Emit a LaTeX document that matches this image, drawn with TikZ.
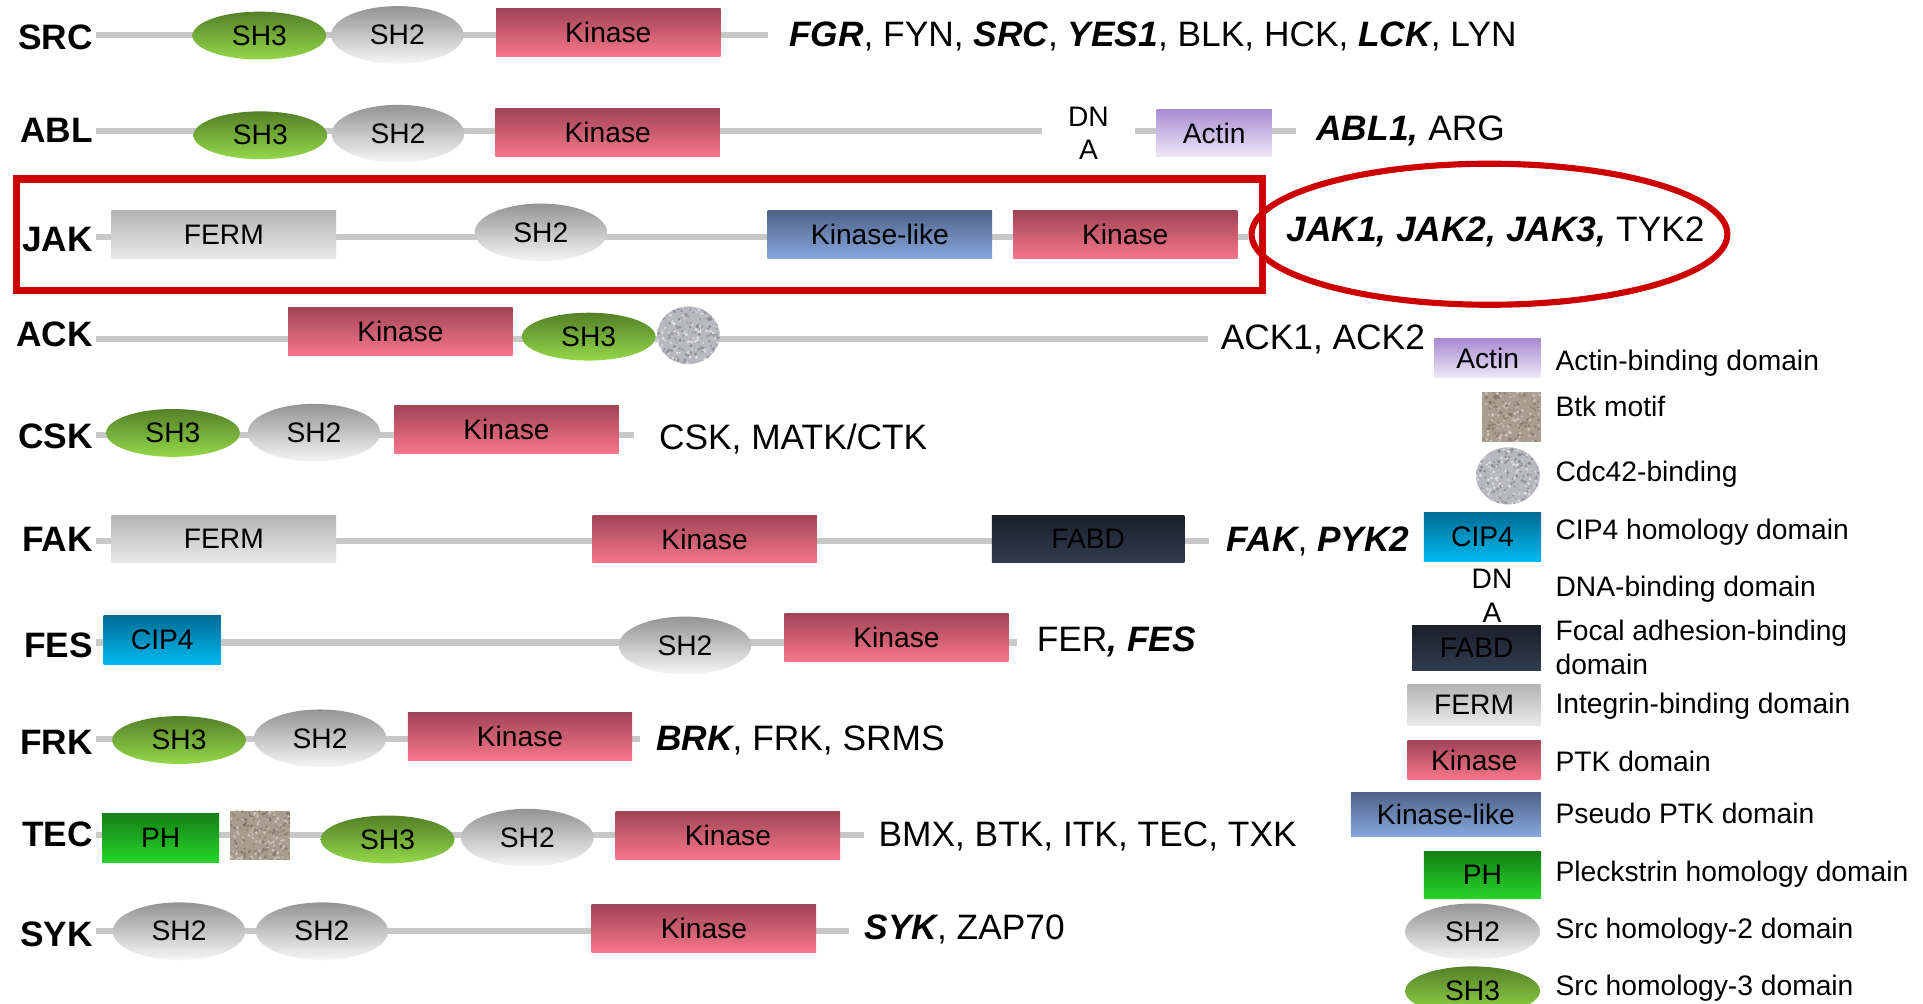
\documentclass[tikz,border=0pt]{standalone}
\usepackage{fontspec}
\setmainfont{Liberation Sans}
\usetikzlibrary{shapes.geometric}

\definecolor{lineGray}{RGB}{200,200,200}
\definecolor{kinTop}{RGB}{160,68,86}
\definecolor{kinBot}{RGB}{248,118,138}
\definecolor{klTop}{RGB}{78,98,136}
\definecolor{klBot}{RGB}{136,168,224}
\definecolor{sh3Top}{RGB}{84,128,40}
\definecolor{sh3Bot}{RGB}{148,216,74}
\definecolor{sh2Top}{RGB}{148,148,148}
\definecolor{sh2Bot}{RGB}{246,246,246}
\definecolor{fermTop}{RGB}{180,180,180}
\definecolor{fermBot}{RGB}{234,234,234}
\definecolor{actTop}{RGB}{168,140,210}
\definecolor{actBot}{RGB}{238,232,247}
\definecolor{cipTop}{RGB}{0,108,148}
\definecolor{cipBot}{RGB}{0,186,242}
\definecolor{fabdTop}{RGB}{26,32,42}
\definecolor{fabdBot}{RGB}{48,60,80}
\definecolor{phTop}{RGB}{20,128,22}
\definecolor{phBot}{RGB}{38,212,42}
\definecolor{btkBase}{RGB}{170,156,142}
\definecolor{btkDark}{RGB}{118,104,92}
\definecolor{btkLight}{RGB}{220,210,198}
\definecolor{cdcBase}{RGB}{184,185,190}
\definecolor{cdcDark}{RGB}{118,118,124}
\definecolor{cdcLight}{RGB}{236,236,240}
\definecolor{jakRed}{RGB}{204,0,0}

% bold italic gene names
\newcommand\genebi[1]{{\bfseries\itshape #1}}

% mottled texture for the Btk motif and Cdc42-binding shapes
\newcommand\speckle[3]{%
  \foreach \k in {1,...,140}{%
    \pgfmathsetmacro\spX{rand*14}\pgfmathsetmacro\spY{rand*13}\pgfmathsetmacro\spR{0.35+0.45*rnd}%
    \fill[#2, opacity=0.55] ([xshift=\spX pt,yshift=\spY pt]#1.center) circle[radius=\spR pt];
    \pgfmathsetmacro\spX{rand*14}\pgfmathsetmacro\spY{rand*13}\pgfmathsetmacro\spR{0.3+0.4*rnd}%
    \fill[#3, opacity=0.7] ([xshift=\spX pt,yshift=\spY pt]#1.center) circle[radius=\spR pt];}}

\begin{document}
\begin{tikzpicture}[x=0.5pt,y=-0.5pt,
  rowlbl/.style={anchor=east, inner sep=0pt, font=\fontsize{14.4}{17}\selectfont\bfseries},
  genes/.style={anchor=base west, inner sep=0pt, font=\fontsize{14.4}{17}\selectfont},
  legtxt/.style={anchor=base west, inner sep=0pt, font=\fontsize{11.5}{13.75}\selectfont},
  backbone/.style={draw=lineGray, line width=2.6pt},
  dom/.style={inner sep=0pt, font=\fontsize{11.5}{13.5}\selectfont},
  wh/.style 2 args={minimum width={#1*0.5pt}, minimum height={#2*0.5pt}},
  kinasebox/.style={dom, rectangle, top color=kinTop, bottom color=kinBot, wh={183}{39}},
  kinlikebox/.style={dom, rectangle, top color=klTop, bottom color=klBot},
  fermbox/.style={dom, rectangle, top color=fermTop, bottom color=fermBot},
  actinbox/.style={dom, rectangle, top color=actTop, bottom color=actBot},
  cipbox/.style={dom, rectangle, top color=cipTop, bottom color=cipBot},
  fabdbox/.style={dom, rectangle, top color=fabdTop, bottom color=fabdBot},
  phbox/.style={dom, rectangle, top color=phTop, bottom color=phBot},
  shthree/.style={dom, ellipse, top color=sh3Top, bottom color=sh3Bot, wh={109}{39}},
  shtwo/.style={dom, ellipse, top color=sh2Top, bottom color=sh2Bot, wh={108}{47}},
  btkbox/.style={rectangle, inner sep=0pt, fill=btkBase,
    path picture={\speckle{path picture bounding box}{btkDark}{btkLight}}},
  cdcbox/.style={ellipse, inner sep=0pt, fill=cdcBase,
    path picture={\speckle{path picture bounding box}{cdcDark}{cdcLight}}},
  dnatxt/.style={anchor=north, inner sep=0pt, align=center,
    font=\fontsize{11.5}{13.5}\selectfont},
]
\pgfmathsetseed{11}
\path[use as bounding box, clip] (0,0) rectangle (1568,818);
\fill[white] (0,0) rectangle (1568,818);

% ---------------- SRC ----------------
\node[rowlbl] (srcL) at (76,30.6) {SRC};
\coordinate (srcA) at (78,28.5); \coordinate (srcB) at (626,28.5);
\draw[backbone] (srcA) -- (srcB);
\node[shthree] (srcSH3) at (211.5,29) {SH3};
\node[shtwo] (srcSH2) at (324,28.5) {SH2};
\node[kinasebox] (srcKin) at (496,26.5) {Kinase};
\node[genes] (srcG) at (643,37.8) {\genebi{FGR}, FYN, \genebi{SRC}, \genebi{YES1}, BLK, HCK, \genebi{LCK}, LYN};

% ---------------- ABL ----------------
\node[rowlbl] (ablL) at (76,106) {ABL};
\coordinate (ablA) at (78,106.8); \coordinate (ablB) at (1057,106.8);
\node[dnatxt, minimum width=37.5pt] (ablDNA) at (887.5,87) {DN\\A};
\draw[backbone] (ablA) -- (ablA -| ablDNA.west);
\draw[backbone] (ablA -| ablDNA.east) -- (ablB);
\node[shthree] (ablSH3) at (212.3,110.3) {SH3};
\node[shtwo] (ablSH2) at (324.5,109) {SH2};
\node[kinasebox] (ablKin) at (495.5,108) {Kinase};
\node[actinbox, wh={94}{39}] (ablAct) at (990,108.5) {Actin};
\node[genes] (ablG) at (1073,114.3) {\genebi{ABL1,} ARG};

% ---------------- JAK ----------------
\node[rowlbl] (jakL) at (76,195) {JAK};
\coordinate (jakA) at (78,193); \coordinate (jakB) at (1018,193);
\draw[backbone] (jakA) -- (jakB);
\node[fermbox, wh={183}{39}] (jakFERM) at (182.5,191.5) {FERM};
\node[shtwo] (jakSH2) at (441,189.5) {SH2};
\node[kinlikebox, wh={183}{39}] (jakKL) at (717.5,191.5) {Kinase-like};
\node[kinasebox] (jakKin) at (917.5,191.5) {Kinase};
\node[genes] (jakG) at (1048.5,197.3) {\genebi{JAK1, JAK2, JAK3,} TYK2};
\node[draw=jakRed, line width=3pt, rectangle, inner sep=0pt, wh={1016}{91}] (jakBox) at (521.5,191.5) {};
\node[draw=jakRed, line width=2.5pt, ellipse, inner sep=0pt, wh={388}{115}] (jakOval) at (1214.5,191) {};

% ---------------- ACK ----------------
\node[rowlbl] (ackL) at (76,272.5) {ACK};
\coordinate (ackA) at (78,276.5); \coordinate (ackB) at (985,276.5);
\draw[backbone] (ackA) -- (ackB);
\node[kinasebox] (ackKin) at (326.5,270) {Kinase};
\node[shthree] (ackSH3) at (480,274.5) {SH3};
\node[cdcbox, wh={51}{47}] (ackCdc) at (561.3,273.4) {};
\node[genes] (ackG) at (995,285.2) {ACK1, ACK2};

% ---------------- CSK ----------------
\node[rowlbl] (cskL) at (76,356) {CSK};
\coordinate (cskA) at (78,354.7); \coordinate (cskB) at (517,354.7);
\draw[backbone] (cskA) -- (cskB);
\node[shthree] (cskSH3) at (141,353) {SH3};
\node[shtwo] (cskSH2) at (256,352.8) {SH2};
\node[kinasebox] (cskKin) at (413,350) {Kinase};
\node[genes] (cskG) at (537,366.3) {CSK, MATK/CTK};

% ---------------- FAK ----------------
\node[rowlbl] (fakL) at (76,440) {FAK};
\coordinate (fakA) at (78,441); \coordinate (fakB) at (986,441);
\draw[backbone] (fakA) -- (fakB);
\node[fermbox, wh={183}{39}] (fakFERM) at (182.5,439.5) {FERM};
\node[kinasebox] (fakKin) at (574.5,439.5) {Kinase};
\node[fabdbox, wh={157}{39}] (fakFABD) at (887.3,439.5) {FABD};
\node[genes] (fakG) at (1000,449.3) {\genebi{FAK}, \genebi{PYK2}};

% ---------------- FES ----------------
\node[rowlbl] (fesL) at (76,526) {FES};
\coordinate (fesA) at (78,524); \coordinate (fesB) at (829,524);
\draw[backbone] (fesA) -- (fesB);
\node[cipbox, wh={95.5}{40}] (fesCIP) at (132.3,522) {CIP4};
\node[shtwo] (fesSH2) at (558.5,526.3) {SH2};
\node[kinasebox] (fesKin) at (731,519.5) {Kinase};
\node[genes] (fesG) at (845,531.5) {FER\genebi{, FES}};

% ---------------- FRK ----------------
\node[rowlbl] (frkL) at (76,605) {FRK};
\coordinate (frkA) at (78,602.6); \coordinate (frkB) at (522,602.6);
\draw[backbone] (frkA) -- (frkB);
\node[shthree] (frkSH3) at (146,603.4) {SH3};
\node[shtwo] (frkSH2) at (261,602) {SH2};
\node[kinasebox] (frkKin) at (424,600.3) {Kinase};
\node[genes] (frkG) at (534.6,612.3) {\genebi{BRK}, FRK, SRMS};

% ---------------- TEC ----------------
\node[rowlbl] (tecL) at (76,680) {TEC};
\coordinate (tecA) at (78,681); \coordinate (tecB) at (704.6,681);
\draw[backbone] (tecA) -- (tecB);
\node[phbox, wh={95.5}{40}] (tecPH) at (131,683) {PH};
\node[btkbox, wh={49}{40}] (tecBtk) at (212,681) {};
\node[shthree] (tecSH3) at (316,684.5) {SH3};
\node[shtwo] (tecSH2) at (430,683) {SH2};
\node[kinasebox] (tecKin) at (593.5,681) {Kinase};
\node[genes] (tecG) at (716,690.3) {BMX, BTK, ITK, TEC, TXK};

% ---------------- SYK ----------------
\node[rowlbl] (sykL) at (76,762) {SYK};
\coordinate (sykA) at (78,759); \coordinate (sykB) at (692,759);
\draw[backbone] (sykA) -- (sykB);
\node[shtwo] (sykSH2a) at (146,759.3) {SH2};
\node[shtwo] (sykSH2b) at (262.5,759.3) {SH2};
\node[kinasebox] (sykKin) at (574,757) {Kinase};
\node[genes] (sykG) at (704.5,766.3) {\genebi{SYK}, ZAP70};

% ---------------- legend ----------------
\node[actinbox, wh={87}{31.6}] (kActin) at (1213,292.2) {Actin};
\node[legtxt] (tActin) at (1268,302) {Actin-binding domain};
\node[btkbox, wh={48}{40}] (kBtk) at (1232.5,340) {};
\node[legtxt] (tBtk) at (1268,339.8) {Btk motif};
\node[cdcbox, wh={52}{46.5}] (kCdc) at (1229.5,388) {};
\node[legtxt] (tCdc) at (1268,392.8) {Cdc42-binding};
\node[cipbox, wh={95.5}{40}] (kCIP) at (1208.8,438) {CIP4};
\node[legtxt] (tCIP) at (1268,440.2) {CIP4 homology domain};
\node[dnatxt] (kDNA) at (1216.6,464) {DN\\A};
\node[legtxt] (tDNA) at (1268,486.2) {DNA-binding domain};
\node[fabdbox, wh={105}{37.3}] (kFABD) at (1204,528.3) {FABD};
\node[legtxt, anchor=north west, align=left] (tFABD) at (1268,505.5) {Focal adhesion-binding\\domain};
\node[fermbox, wh={108.5}{33.5}] (kFERM) at (1202,574.5) {FERM};
\node[legtxt] (tFERM) at (1268,581.7) {Integrin-binding domain};
\node[kinasebox, wh={108.5}{32.6}] (kKin) at (1202,619.7) {Kinase};
\node[legtxt] (tKin) at (1268,629.2) {PTK domain};
\node[kinlikebox, wh={155}{36.2}] (kKL) at (1179,664) {Kinase-like};
\node[legtxt] (tKL) at (1268,671.2) {Pseudo PTK domain};
\node[phbox, wh={95.5}{39}] (kPH) at (1208.8,713.5) {PH};
\node[legtxt] (tPH) at (1268,719) {Pleckstrin homology domain};
\node[shtwo, wh={110}{46}] (kSH2) at (1200.7,759.7) {SH2};
\node[legtxt] (tSH2) at (1268,765) {Src homology-2 domain};
\node[shthree, wh={110}{40}] (kSH3) at (1200.7,808) {SH3};
\node[legtxt] (tSH3) at (1268,812.1) {Src homology-3 domain};
\end{tikzpicture}
\end{document}
